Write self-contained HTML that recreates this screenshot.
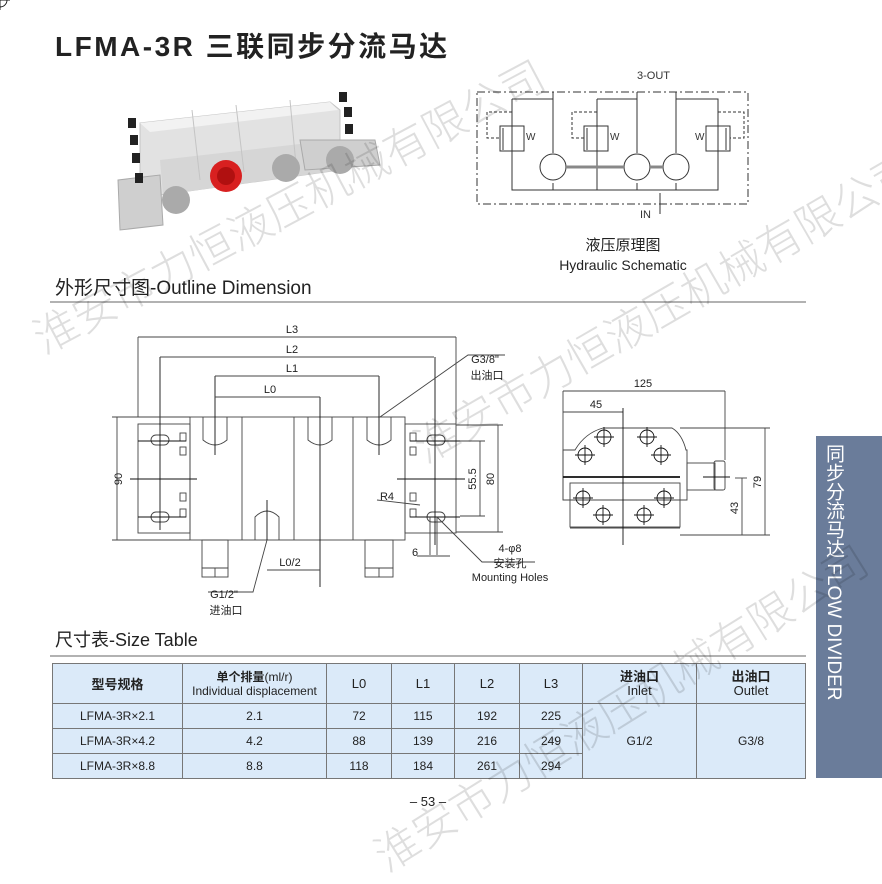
<!DOCTYPE html>
<html><head><meta charset="utf-8"><style>
body{margin:0;width:882px;height:852px;background:#fff;overflow:hidden;position:relative;font-family:"Liberation Sans","Noto Sans CJK SC",sans-serif;}
.abs{position:absolute;white-space:nowrap}
table{position:absolute;left:52px;top:663px;border-collapse:collapse;font-size:12px;color:#222}
td{border:1px solid #777;background:#dbeaf9;text-align:center;padding:0}
.wm{position:absolute;white-space:nowrap;font-size:44px;color:rgba(0,0,0,0.13);transform-origin:0 0;font-family:"Noto Sans CJK SC",sans-serif;font-weight:300}
</style></head><body>
<div class="abs" style="left:55px;top:25px;font-size:28px;font-weight:bold;color:#222;letter-spacing:2.5px">LFMA-3R 三联同步分流马达</div>

<svg class="abs" style="left:0;top:0" width="882" height="852" font-family="Liberation Sans, Noto Sans CJK SC, sans-serif">
<!-- photo -->
<g>
<polygon points="140,123 330,102 340,110 340,170 160,195 140,180" fill="#e2e2e2" stroke="#c4c4c4"/>
<polygon points="140,123 330,102 338,110 150,132" fill="#f2f2f2"/>
<polygon points="160,160 335,140 340,170 163,195" fill="#d6d6d6"/>
<polygon points="118,180 160,175 163,225 120,230" fill="#cfcfcf" stroke="#aaa"/>
<polygon points="300,140 375,140 380,165 305,170" fill="#cfcfcf" stroke="#aaa"/>
<line x1="192" y1="110" x2="200" y2="180" stroke="#c4c4c4"/><line x1="236" y1="105" x2="244" y2="172" stroke="#c4c4c4"/><line x1="290" y1="100" x2="296" y2="165" stroke="#c4c4c4"/>
<circle cx="226" cy="176" r="16" fill="#d82020"/><circle cx="226" cy="176" r="9" fill="#b01010"/>
<circle cx="176" cy="200" r="14" fill="#aaa"/><circle cx="286" cy="168" r="14" fill="#aaa"/><circle cx="340" cy="160" r="14" fill="#aaa"/>
<g fill="#222"><rect x="128" y="118" width="8" height="10"/><rect x="130" y="135" width="8" height="10"/><rect x="132" y="153" width="8" height="10"/><rect x="135" y="173" width="8" height="10"/><rect x="339" y="92" width="8" height="10"/><rect x="344" y="107" width="8" height="10"/><rect x="345" y="124" width="8" height="10"/></g>
</g>

<!-- section headings -->
<text x="55" y="294" font-size="19" fill="#222">外形尺寸图-Outline Dimension</text>
<line x1="50" y1="302" x2="806" y2="302" stroke="#999" stroke-width="1.5"/>
<text x="55" y="646" font-size="18" fill="#222">尺寸表-Size Table</text>
<line x1="50" y1="656" x2="806" y2="656" stroke="#999" stroke-width="1.5"/>

<!-- schematic -->
<g stroke="#333" fill="none" stroke-width="1">
<rect x="477" y="92" width="271" height="112" stroke-dasharray="8,3,2,3"/>
<line x1="553" y1="92" x2="553" y2="153"/><line x1="637" y1="92" x2="637" y2="153"/><line x1="676" y1="92" x2="676" y2="153"/>
<path d="M512 99 H553 M512 99 V190 H718 V99 H676 M597 99 H637 M597 99 V190"/>
<line x1="553" y1="183" x2="553" y2="190"/><line x1="637" y1="183" x2="637" y2="190"/><line x1="676" y1="183" x2="676" y2="190"/>
<line x1="660" y1="193" x2="660" y2="214"/>
<circle cx="553" cy="167" r="13"/><circle cx="637" cy="167" r="13"/><circle cx="676" cy="167" r="13"/>
<line x1="566" y1="167" x2="624" y2="167" stroke-width="3" stroke="#888"/><line x1="650" y1="167" x2="663" y2="167" stroke-width="3" stroke="#888"/>
<rect x="500" y="126" width="24" height="25"/><rect x="584" y="126" width="24" height="25"/><rect x="706" y="126" width="24" height="25"/>
<path d="M512 112 H487 V138 H500 M597 112 H572 V138 H584 M718 112 H744 V138 H730" stroke-dasharray="3,2"/>
<line x1="503" y1="128" x2="503" y2="150"/><line x1="587" y1="128" x2="587" y2="150"/><line x1="726" y1="128" x2="726" y2="150"/>
</g>
<g font-size="10" fill="#333"><text x="526" y="140">W</text><text x="610" y="140">W</text><text x="695" y="140">W</text>
<text x="637" y="79" font-size="11">3-OUT</text><text x="640" y="218" font-size="11">IN</text></g>
<text x="623" y="250" font-size="15" text-anchor="middle" fill="#222">液压原理图</text>
<text x="623" y="270" font-size="14" text-anchor="middle" fill="#222">Hydraulic Schematic</text>

<!-- outline front view -->
<g stroke="#444" fill="none" stroke-width="0.9">
<rect x="190" y="417" width="215" height="123"/>
<rect x="138" y="424" width="52" height="109"/><rect x="405" y="424" width="51" height="109"/>
<line x1="242" y1="417" x2="242" y2="540"/><line x1="294" y1="417" x2="294" y2="540"/><line x1="353" y1="417" x2="353" y2="540"/>
<path d="M203 417 V440 Q215 450 227 440 V417 M308 417 V440 Q320 450 332 440 V417 M367 417 V440 Q379 450 391 440 V417 M255 540 V517 Q267 505 279 517 V540"/>
<rect x="202" y="540" width="26" height="28"/><rect x="202" y="568" width="26" height="9"/><line x1="215" y1="568" x2="215" y2="577"/>
<rect x="365" y="540" width="28" height="28"/><rect x="365" y="568" width="28" height="9"/><line x1="379" y1="568" x2="379" y2="577"/>
<rect x="151" y="435" width="18" height="10" rx="5"/><rect x="151" y="512" width="18" height="10" rx="5"/>
<rect x="427" y="435" width="18" height="10" rx="5"/><rect x="427" y="512" width="18" height="10" rx="5"/>
<rect x="180" y="433" width="6" height="8"/><rect x="180" y="447" width="6" height="8"/><rect x="180" y="493" width="6" height="8"/><rect x="180" y="509" width="6" height="8"/>
<rect x="410" y="433" width="6" height="8"/><rect x="410" y="447" width="6" height="8"/><rect x="410" y="493" width="6" height="8"/><rect x="410" y="509" width="6" height="8"/>
<g stroke="#111"><line x1="160" y1="357" x2="160" y2="530"/><line x1="435" y1="357" x2="435" y2="545"/><line x1="138" y1="441" x2="186" y2="441"/><line x1="138" y1="517" x2="186" y2="517"/><line x1="410" y1="441" x2="460" y2="441"/><line x1="410" y1="517" x2="460" y2="517"/><line x1="130" y1="479" x2="197" y2="479"/><line x1="397" y1="479" x2="465" y2="479"/>
<line x1="215" y1="376" x2="215" y2="455"/><line x1="320" y1="397" x2="320" y2="587"/><line x1="379" y1="376" x2="379" y2="455"/><line x1="267" y1="500" x2="267" y2="540"/></g>
<line x1="138" y1="337" x2="138" y2="417"/><line x1="456" y1="337" x2="456" y2="424"/>
<line x1="138" y1="337" x2="456" y2="337"/><line x1="160" y1="357" x2="434" y2="357"/><line x1="215" y1="376" x2="379" y2="376"/><line x1="215" y1="397" x2="320" y2="397"/>
<line x1="117" y1="417" x2="117" y2="540"/><line x1="112" y1="417" x2="190" y2="417"/><line x1="112" y1="540" x2="190" y2="540"/>
<line x1="498" y1="425" x2="498" y2="532"/><line x1="456" y1="425" x2="503" y2="425"/><line x1="456" y1="532" x2="503" y2="532"/>
<line x1="480" y1="441" x2="480" y2="516"/><line x1="460" y1="441" x2="485" y2="441"/><line x1="460" y1="516" x2="485" y2="516"/>
<line x1="267" y1="570" x2="320" y2="570"/>
<line x1="430" y1="517" x2="430" y2="555"/><line x1="437" y1="517" x2="437" y2="555"/><line x1="417" y1="556" x2="450" y2="556"/>
<path d="M380 417 L468 355 H505 M267 540 L253 592 H208 M377 500 L420 505 M437 517 L482 562 H535"/>
</g>
<g font-size="11" fill="#222" text-anchor="middle">
<text x="292" y="333">L3</text><text x="292" y="353">L2</text><text x="292" y="372">L1</text><text x="270" y="393">L0</text>
<text x="290" y="566">L0/2</text><text x="415" y="556">6</text><text x="387" y="500">R4</text>
<text transform="translate(122,479) rotate(-90)">90</text><text transform="translate(494,479) rotate(-90)">80</text><text transform="translate(476,479) rotate(-90)">55.5</text>
<text x="485" y="363">G3/8"</text><text x="487" y="379">出油口</text>
<text x="224" y="598">G1/2"</text><text x="226" y="614">进油口</text>
<text x="510" y="552">4-φ8</text><text x="510" y="567">安装孔</text><text x="510" y="581">Mounting Holes</text>
</g>

<!-- side view -->
<g stroke="#444" fill="none" stroke-width="0.9">
<path d="M563 450 H575 Q585 433 603 428 H672 Q682 434 686 450 H687 V500 H563 Z"/>
<rect x="570" y="483" width="110" height="44"/>
<rect x="687" y="463" width="28" height="27"/><rect x="714" y="461" width="11" height="29" rx="2"/>
<line x1="563" y1="391" x2="563" y2="500"/><line x1="725" y1="391" x2="725" y2="460"/><line x1="563" y1="391" x2="725" y2="391"/>
<line x1="563" y1="412" x2="623" y2="412"/>
<line x1="765" y1="428" x2="765" y2="535"/><line x1="680" y1="428" x2="770" y2="428"/><line x1="680" y1="535" x2="770" y2="535"/>
<line x1="742" y1="478" x2="742" y2="535"/><line x1="735" y1="478" x2="747" y2="478"/>
<line x1="570" y1="528" x2="680" y2="528"/>
<g stroke="#111"><line x1="623" y1="408" x2="623" y2="545"/><line x1="563" y1="477" x2="680" y2="477" stroke-width="1.8"/><line x1="703" y1="477" x2="730" y2="477"/>
<g id="c"><circle cx="0" cy="0" r="7"/><line x1="-10" y1="0" x2="10" y2="0"/><line x1="0" y1="-10" x2="0" y2="10"/></g>
<use href="#c" x="604" y="437"/><use href="#c" x="647" y="437"/><use href="#c" x="585" y="455"/><use href="#c" x="661" y="455"/>
<use href="#c" x="583" y="498"/><use href="#c" x="664" y="498"/><use href="#c" x="603" y="515"/><use href="#c" x="644" y="515"/></g>
</g>
<g font-size="11" fill="#222" text-anchor="middle"><text x="643" y="387">125</text><text x="596" y="408">45</text>
<text transform="translate(761,482) rotate(-90)">79</text><text transform="translate(738,508) rotate(-90)">43</text></g>

<text x="428" y="806" font-size="13" fill="#222" text-anchor="middle">– 53 –</text>
</svg>

<table>
<tr style="height:40px"><td style="width:129px;font-size:13px;font-weight:bold">型号规格</td><td style="width:143px;line-height:14px"><b>单个排量</b>(ml/r)<br>Individual displacement</td><td style="width:64px;font-size:13px">L0</td><td style="width:62px;font-size:13px">L1</td><td style="width:64px;font-size:13px">L2</td><td style="width:62px;font-size:13px">L3</td><td style="width:113px;font-size:13px;line-height:14px"><b>进油口</b><br>Inlet</td><td style="width:108px;font-size:13px;line-height:14px"><b>出油口</b><br>Outlet</td></tr>
<tr style="height:25px"><td>LFMA-3R×2.1</td><td>2.1</td><td>72</td><td>115</td><td>192</td><td>225</td><td rowspan="3">G1/2</td><td rowspan="3">G3/8</td></tr>
<tr style="height:25px"><td>LFMA-3R×4.2</td><td>4.2</td><td>88</td><td>139</td><td>216</td><td>249</td></tr>
<tr style="height:25px"><td>LFMA-3R×8.8</td><td>8.8</td><td>118</td><td>184</td><td>261</td><td>294</td></tr>
</table>

<div class="abs" style="left:816px;top:436px;width:66px;height:342px;background:#6a7c9a"></div>
<div class="abs" style="left:822px;top:444px;color:#fff;font-size:19px;line-height:22px;writing-mode:vertical-rl;font-family:'Liberation Sans','Noto Sans CJK SC',sans-serif">同步分流马达 FLOW DIVIDER</div>

<div class="wm" style="left:20px;top:310px;transform:rotate(-28deg)">淮安市力恒液压机械有限公司</div>
<div class="wm" style="left:360px;top:830px;transform:rotate(-32deg)">淮安市力恒液压机械有限公司</div>
<div class="wm" style="left:400px;top:420px;transform:rotate(-30deg)">淮安市力恒液压机械有限公司</div>
</body></html>
